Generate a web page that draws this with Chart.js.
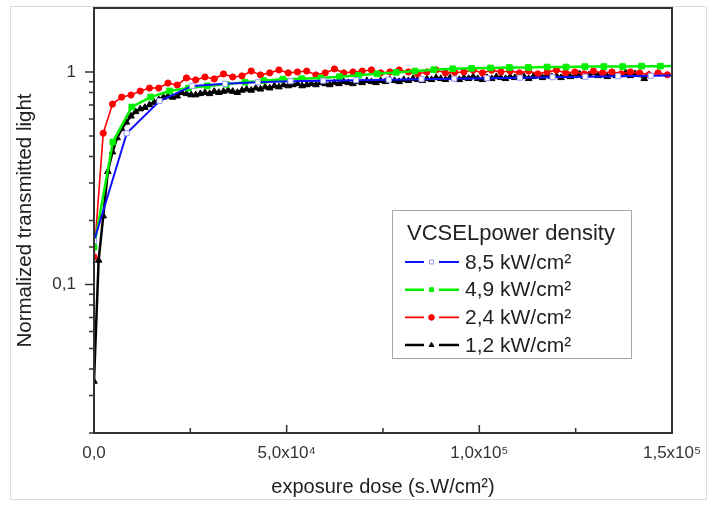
<!DOCTYPE html>
<html>
<head>
<meta charset="utf-8">
<script src="https://cdn.jsdelivr.net/npm/chart.js@4.4.1/dist/chart.umd.min.js"></script>
<style>
  html, body { margin: 0; padding: 0; background: #fff; }
  #wrap { position: relative; width: 712px; height: 505px; }
  #outline { position: absolute; left: 10px; top: 6px; width: 695px; height: 492px; border: 1px solid #dcdcdc; pointer-events: none; }
</style>
</head>
<body>
<div id="wrap">
  <canvas id="lightChart"></canvas>
  <div id="outline"></div>
</div>
<script>
// --- DATA ---
const xTitle = 'exposure dose (s.W/cm²)';
const yTitle = 'Normalized transmitted light';
const legendTitle = 'VCSELpower density';
const seriesLabels = ['8,5 kW/cm²', '4,9 kW/cm²', '2,4 kW/cm²', '1,2 kW/cm²'];
const xTickLabels = { 0: '0,0', 50000: '5,0x10⁴', 100000: '1,0x10⁵', 150000: '1,5x10⁵' };
const yTickLabels = { 1: '1', 0.1: '0,1' };

// dose increment between two samples of each series (s.W/cm²)
const doseSteps = [8500, 4900, 2400, 1200];

const blueValues = [0.16, 0.515, 0.73, 0.86, 0.88, 0.895, 0.905, 0.91, 0.915, 0.92,
  0.925, 0.93, 0.935, 0.94, 0.945, 0.95, 0.955, 0.96, 0.965];

const greenValues = [0.15, 0.468, 0.684, 0.762, 0.814, 0.84, 0.86, 0.875, 0.895, 0.91,
  0.925, 0.93, 0.937, 0.95, 0.965, 0.98, 0.995, 1.01, 1.025, 1.035,
  1.04, 1.045, 1.05, 1.05, 1.055, 1.055, 1.06, 1.06, 1.06, 1.065,
  1.065, 1.07];

const redValues = [0.135, 0.515, 0.706, 0.762, 0.779, 0.813, 0.84, 0.84, 0.887, 0.868,
  0.937, 0.917, 0.947, 0.927, 0.979, 0.947, 0.958, 1.01, 0.968, 0.99,
  1.022, 0.99, 1.0, 1.01, 0.968, 0.99, 1.033, 0.99, 1.0, 1.01,
  1.022, 0.99, 1.0, 1.022, 1.0, 0.979, 1.0, 1.022, 0.99, 0.995,
  1.0, 1.02, 0.99, 1.02, 1.0, 1.01, 0.99, 1.01, 0.98, 1.0,
  1.02, 0.99, 1.0, 0.98, 1.01, 0.99, 1.0, 0.98, 1.0, 0.99,
  0.97, 0.99, 0.97];

const blackValues = [0.035, 0.13, 0.21, 0.34, 0.42, 0.49, 0.54, 0.58, 0.62, 0.65,
  0.67, 0.68, 0.70, 0.72, 0.74, 0.76, 0.77, 0.76, 0.77, 0.80,
  0.79, 0.78, 0.78, 0.79, 0.80, 0.79, 0.81, 0.80, 0.81, 0.82,
  0.81, 0.80, 0.82, 0.83, 0.82, 0.84, 0.83, 0.85, 0.84, 0.86,
  0.85, 0.87, 0.86, 0.87, 0.88, 0.86, 0.87, 0.88, 0.87, 0.89,
  0.88, 0.87, 0.89, 0.88, 0.90, 0.89, 0.88, 0.90, 0.89, 0.91,
  0.90, 0.89, 0.91, 0.90, 0.92, 0.91, 0.90, 0.92, 0.91, 0.93,
  0.92, 0.91, 0.93, 0.92, 0.94, 0.93, 0.92, 0.94, 0.93, 0.92,
  0.94, 0.93, 0.95, 0.93, 0.92, 0.94, 0.93, 0.95, 0.94, 0.93,
  0.95, 0.94, 0.96, 0.95, 0.93, 0.95, 0.96, 0.94, 0.97, 0.95,
  0.96, 0.94, 0.97, 0.95, 0.96, 0.98, 0.95, 0.97, 0.99, 0.96,
  0.97, 0.95, 0.98, 0.96, 0.97, 0.99, 0.96, 0.98, 0.97, 0.93,
  0.97];

// --- HELPERS ---
const FONT = '"Liberation Sans", Arial, sans-serif';

function toPoints(values, step) {
  return values.map((v, i) => ({ x: i * step, y: v }));
}

// frame box + Origin-style ticks (x inward, y outward)
const frameTicks = {
  id: 'frameTicks',
  afterDraw(chart) {
    const { ctx, chartArea: a, scales: { x, y } } = chart;
    ctx.save();
    ctx.strokeStyle = '#333';
    ctx.lineWidth = 2;
    ctx.strokeRect(a.left, a.top, a.right - a.left, a.bottom - a.top);
    ctx.lineWidth = 1.5;
    ctx.beginPath();
    x.ticks.forEach(t => {
      const px = x.getPixelForValue(t.value);
      const len = t.value % 50000 === 0 ? 8 : 5;
      ctx.moveTo(px, a.bottom);
      ctx.lineTo(px, a.bottom - len);
    });
    y.ticks.forEach(t => {
      if (t.value > 1.0001) return;
      const lg = Math.log10(t.value);
      const major = Math.abs(lg - Math.round(lg)) < 1e-6;
      const py = y.getPixelForValue(t.value);
      ctx.moveTo(a.left, py);
      ctx.lineTo(a.left - (major ? 9 : 5), py);
    });
    ctx.stroke();
    ctx.restore();
  }
};

// boxed legend with broken line + marker, like the original
const boxLegend = {
  id: 'boxLegend',
  afterDraw(chart) {
    const ctx = chart.ctx;
    ctx.save();
    ctx.fillStyle = '#fff';
    ctx.fillRect(392, 210, 239, 148);
    ctx.strokeStyle = '#a8a8a8';
    ctx.lineWidth = 1;
    ctx.strokeRect(392.5, 210.5, 239, 148);

    ctx.fillStyle = '#222';
    ctx.textBaseline = 'middle';
    ctx.font = '22px ' + FONT;
    ctx.fillText(legendTitle, 407, 234);

    ctx.font = '21px ' + FONT;
    chart.data.datasets.forEach((ds, i) => {
      const cy = 262 + i * 27.7;
      ctx.strokeStyle = ds.borderColor;
      ctx.lineWidth = ds.borderWidth;
      ctx.beginPath();
      ctx.moveTo(405, cy); ctx.lineTo(424, cy);
      ctx.moveTo(439, cy); ctx.lineTo(459, cy);
      ctx.stroke();
      ctx.fillStyle = ds.pointBackgroundColor;
      ctx.strokeStyle = ds.pointBorderColor;
      ctx.lineWidth = 1;
      Chart.helpers.drawPoint(ctx, { pointStyle: ds.pointStyle, radius: 2.8, borderWidth: 1, rotation: 0 }, 431.5, cy);
      ctx.fillStyle = '#222';
      ctx.fillText(ds.label, 465, cy + 1);
    });
    ctx.restore();
  }
};

// --- CHART ---
function renderChart() {
  const ctx = document.getElementById('lightChart').getContext('2d');
  new Chart(ctx, {
    type: 'line',
    data: {
      datasets: [{
        label: seriesLabels[0],
        data: toPoints(blueValues, doseSteps[0]),
        borderColor: '#1010ff',
        borderWidth: 2,
        pointStyle: 'rect',
        pointRadius: 3.6,
        pointBackgroundColor: '#fff',
        pointBorderColor: '#9a9aff',
        pointBorderWidth: 1
      }, {
        label: seriesLabels[1],
        data: toPoints(greenValues, doseSteps[1]),
        borderColor: '#00f000',
        borderWidth: 2.5,
        pointStyle: 'rect',
        pointRadius: 4,
        pointBackgroundColor: '#00f000',
        pointBorderColor: '#00f000',
        pointBorderWidth: 1
      }, {
        label: seriesLabels[2],
        data: toPoints(redValues, doseSteps[2]),
        borderColor: '#ff0000',
        borderWidth: 1.6,
        pointStyle: 'circle',
        pointRadius: 3.1,
        pointBackgroundColor: '#ff0000',
        pointBorderColor: '#ff0000',
        pointBorderWidth: 1
      }, {
        label: seriesLabels[3],
        data: toPoints(blackValues, doseSteps[3]),
        borderColor: '#000',
        borderWidth: 2.5,
        pointStyle: 'triangle',
        pointRadius: 3.8,
        pointBackgroundColor: '#000',
        pointBorderColor: '#000',
        pointBorderWidth: 1
      }]
    },
    options: {
      responsive: true,
      maintainAspectRatio: false,
      animation: false,
      layout: { padding: { top: 8, right: 40, left: 0, bottom: 0 } },
      plugins: { legend: { display: false }, tooltip: { enabled: false } },
      elements: { line: { tension: 0 } },
      scales: {
        x: {
          type: 'linear',
          min: 0,
          max: 150000,
          grid: { display: false },
          border: { display: false },
          afterFit: s => { s.height = 72; s.paddingLeft = 0; s.paddingRight = 0; },
          ticks: {
            stepSize: 25000,
            autoSkip: false,
            maxRotation: 0,
            padding: 2,
            color: '#333',
            font: { family: FONT, size: 17 },
            callback: v => xTickLabels[v] || ''
          },
          title: {
            display: true,
            text: xTitle,
            color: '#222',
            font: { family: FONT, size: 20 },
            padding: { top: 0, bottom: 6 }
          }
        },
        y: {
          type: 'logarithmic',
          min: 0.02,
          max: 2,
          grid: { display: false },
          border: { display: false },
          afterFit: s => { s.width = 94; s.paddingTop = 0; s.paddingBottom = 0; },
          ticks: {
            autoSkip: false,
            padding: 10,
            color: '#333',
            font: { family: FONT, size: 17 },
            callback: v => {
              if (Math.abs(v - 1) < 1e-9) return yTickLabels[1];
              if (Math.abs(v - 0.1) < 1e-9) return yTickLabels[0.1];
              return '';
            }
          },
          title: {
            display: true,
            text: yTitle,
            color: '#222',
            font: { family: FONT, size: 20.5 },
            padding: { top: 13, bottom: 0 }
          }
        }
      }
    },
    plugins: [frameTicks, boxLegend]
  });
}

window.onload = renderChart;
</script>
</body>
</html>
